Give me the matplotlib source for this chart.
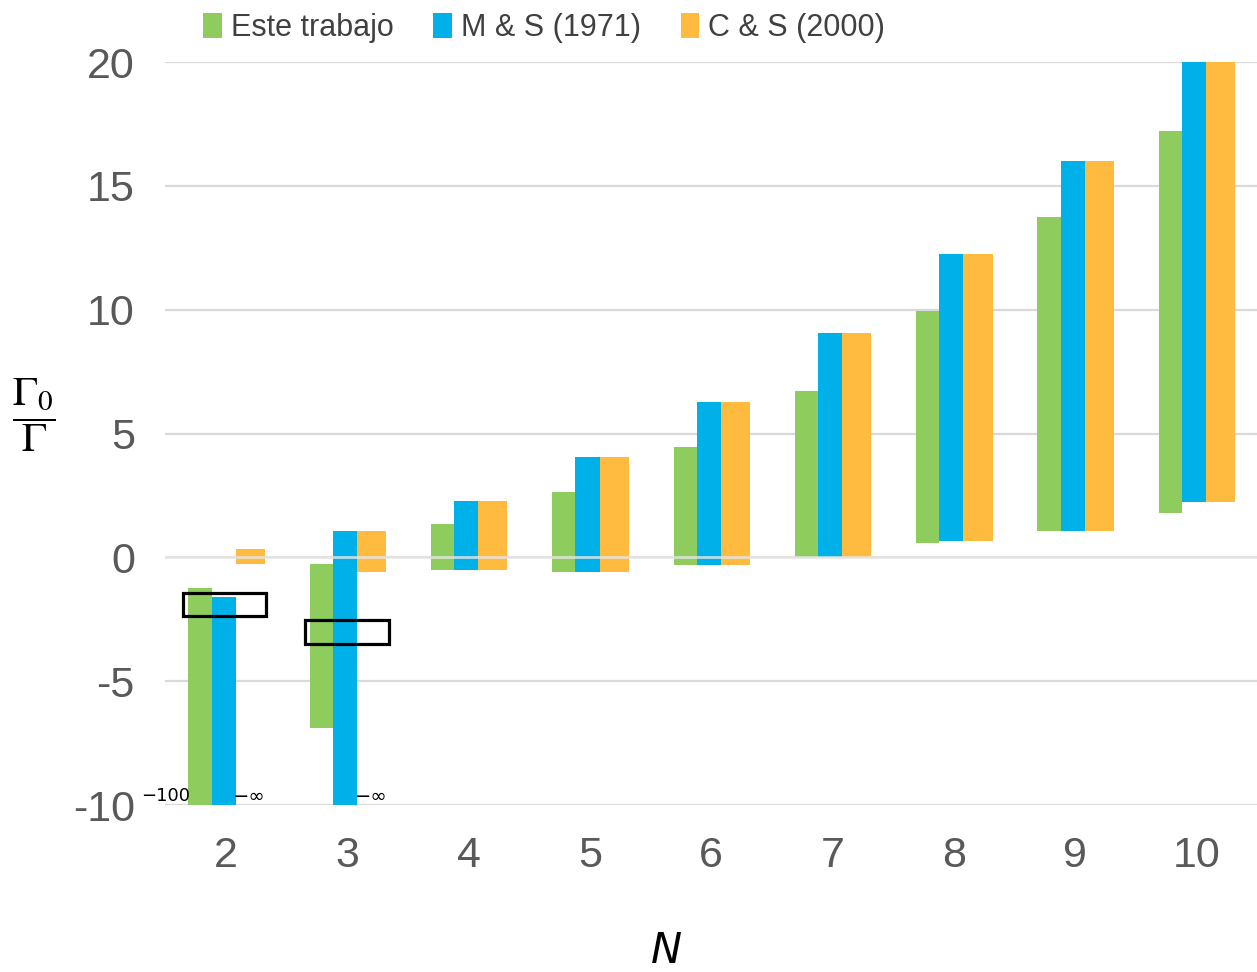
import numpy as np
import matplotlib
matplotlib.use("Agg")
import matplotlib.pyplot as plt
from matplotlib.patches import Patch, Rectangle

plt.rcParams['font.family'] = ['Liberation Sans', 'DejaVu Sans']
plt.rcParams['mathtext.fontset'] = 'stix'

# range of Gamma_0/Gamma for each N, lower and upper end of every bar
N = [2, 3, 4, 5, 6, 7, 8, 9, 10]
este_lo = [-100, -6.9, -0.53, -0.6, -0.32, 0.0, 0.57, 1.05, 1.78]
este_hi = [-1.25, -0.25, 1.33, 2.63, 4.44, 6.7, 9.94, 13.74, 17.2]
ms_lo = [-np.inf, -np.inf, -0.53, -0.6, -0.32, 0.0, 0.65, 1.05, 2.22]
ms_hi = [-1.6, 1.05, 2.26, 4.04, 6.26, 9.05, 12.24, 16.0, 20.0]
cs_lo = [-0.28, -0.6, -0.53, -0.6, -0.32, 0.0, 0.65, 1.05, 2.22]
cs_hi = [0.32, 1.05, 2.26, 4.04, 6.26, 9.05, 12.24, 16.0, 20.0]

labels = ["Este trabajo", "M & S (1971)", "C & S (2000)"]
colors = ['#8fcc5e', '#00b0e8', '#ffba40']

YMIN, YMAX = -10, 20

fig = plt.figure(figsize=(12.57, 9.72), dpi=100)
ax = fig.add_axes([0.1316, 0.1718, 0.8684, 0.7644])

x = np.array(N, dtype=float)
edges = [-0.31, -0.12, 0.08, 0.32]
series = [(este_lo, este_hi), (ms_lo, ms_hi), (cs_lo, cs_hi)]
for i, (lo, hi) in enumerate(series):
    lo_c = np.clip(np.array(lo, dtype=float), YMIN, None)
    hi = np.array(hi, dtype=float)
    ax.bar(x + edges[i], hi - lo_c, bottom=lo_c, width=edges[i + 1] - edges[i],
           align='edge', color=colors[i], zorder=2)

# off-scale lower ends
for i, (lo, hi) in enumerate(series):
    for xi, v in zip(x, lo):
        if v < YMIN:
            if np.isinf(v):
                ax.text(xi + edges[i + 1] - 0.02, YMIN + 0.35, '\u2212\u221e',
                        ha='left', va='center', fontsize=14, family='DejaVu Sans', zorder=4)
            else:
                ax.text(xi + edges[i] + 0.01, YMIN + 0.35, '\u2212%d' % abs(v),
                        ha='right', va='center', fontsize=13, family='DejaVu Sans', zorder=4)

# break markers
for x0, x1, y0, y1 in [(1.645, 2.33, -2.38, -1.45), (2.65, 3.34, -3.5, -2.55)]:
    ax.add_patch(Rectangle((x0, y0), x1 - x0, y1 - y0, fill=False,
                           edgecolor='black', linewidth=2.3, zorder=5))

ax.axhline(0, color='#e6e6e6', linewidth=2, alpha=0.8, zorder=3)

ax.set_xlim(1.5, 10.5)
ax.set_ylim(YMIN, YMAX)
ax.set_xticks(N)
ax.set_yticks(np.arange(-10, 21, 5))
ax.set_yticklabels(['%d' % v for v in np.arange(-10, 21, 5)])
ax.tick_params(length=0, labelsize=31, labelcolor='#595959', pad=22)
ax.grid(axis='y', color='#d9d9d9', linewidth=1.6, zorder=1)
ax.set_axisbelow(True)
for s in ax.spines.values():
    s.set_visible(False)

fig.text(0.027, 0.573, r'$\dfrac{\Gamma_0}{\Gamma}$', fontsize=30, ha='center', va='center')
fig.text(0.53, 0.022, 'N', fontsize=30, style='italic', ha='center', va='center',
         family='DejaVu Sans')

handles = [Patch(facecolor=c, edgecolor='none') for c in colors]
fig.legend(handles, labels, loc='center', bbox_to_anchor=(0.433, 0.971), ncol=3,
           frameon=False, fontsize=22, handlelength=0.6, handleheight=0.9,
           handletextpad=0.3, columnspacing=1.3, labelcolor='#404040')

fig.savefig('out.png', dpi=100)
